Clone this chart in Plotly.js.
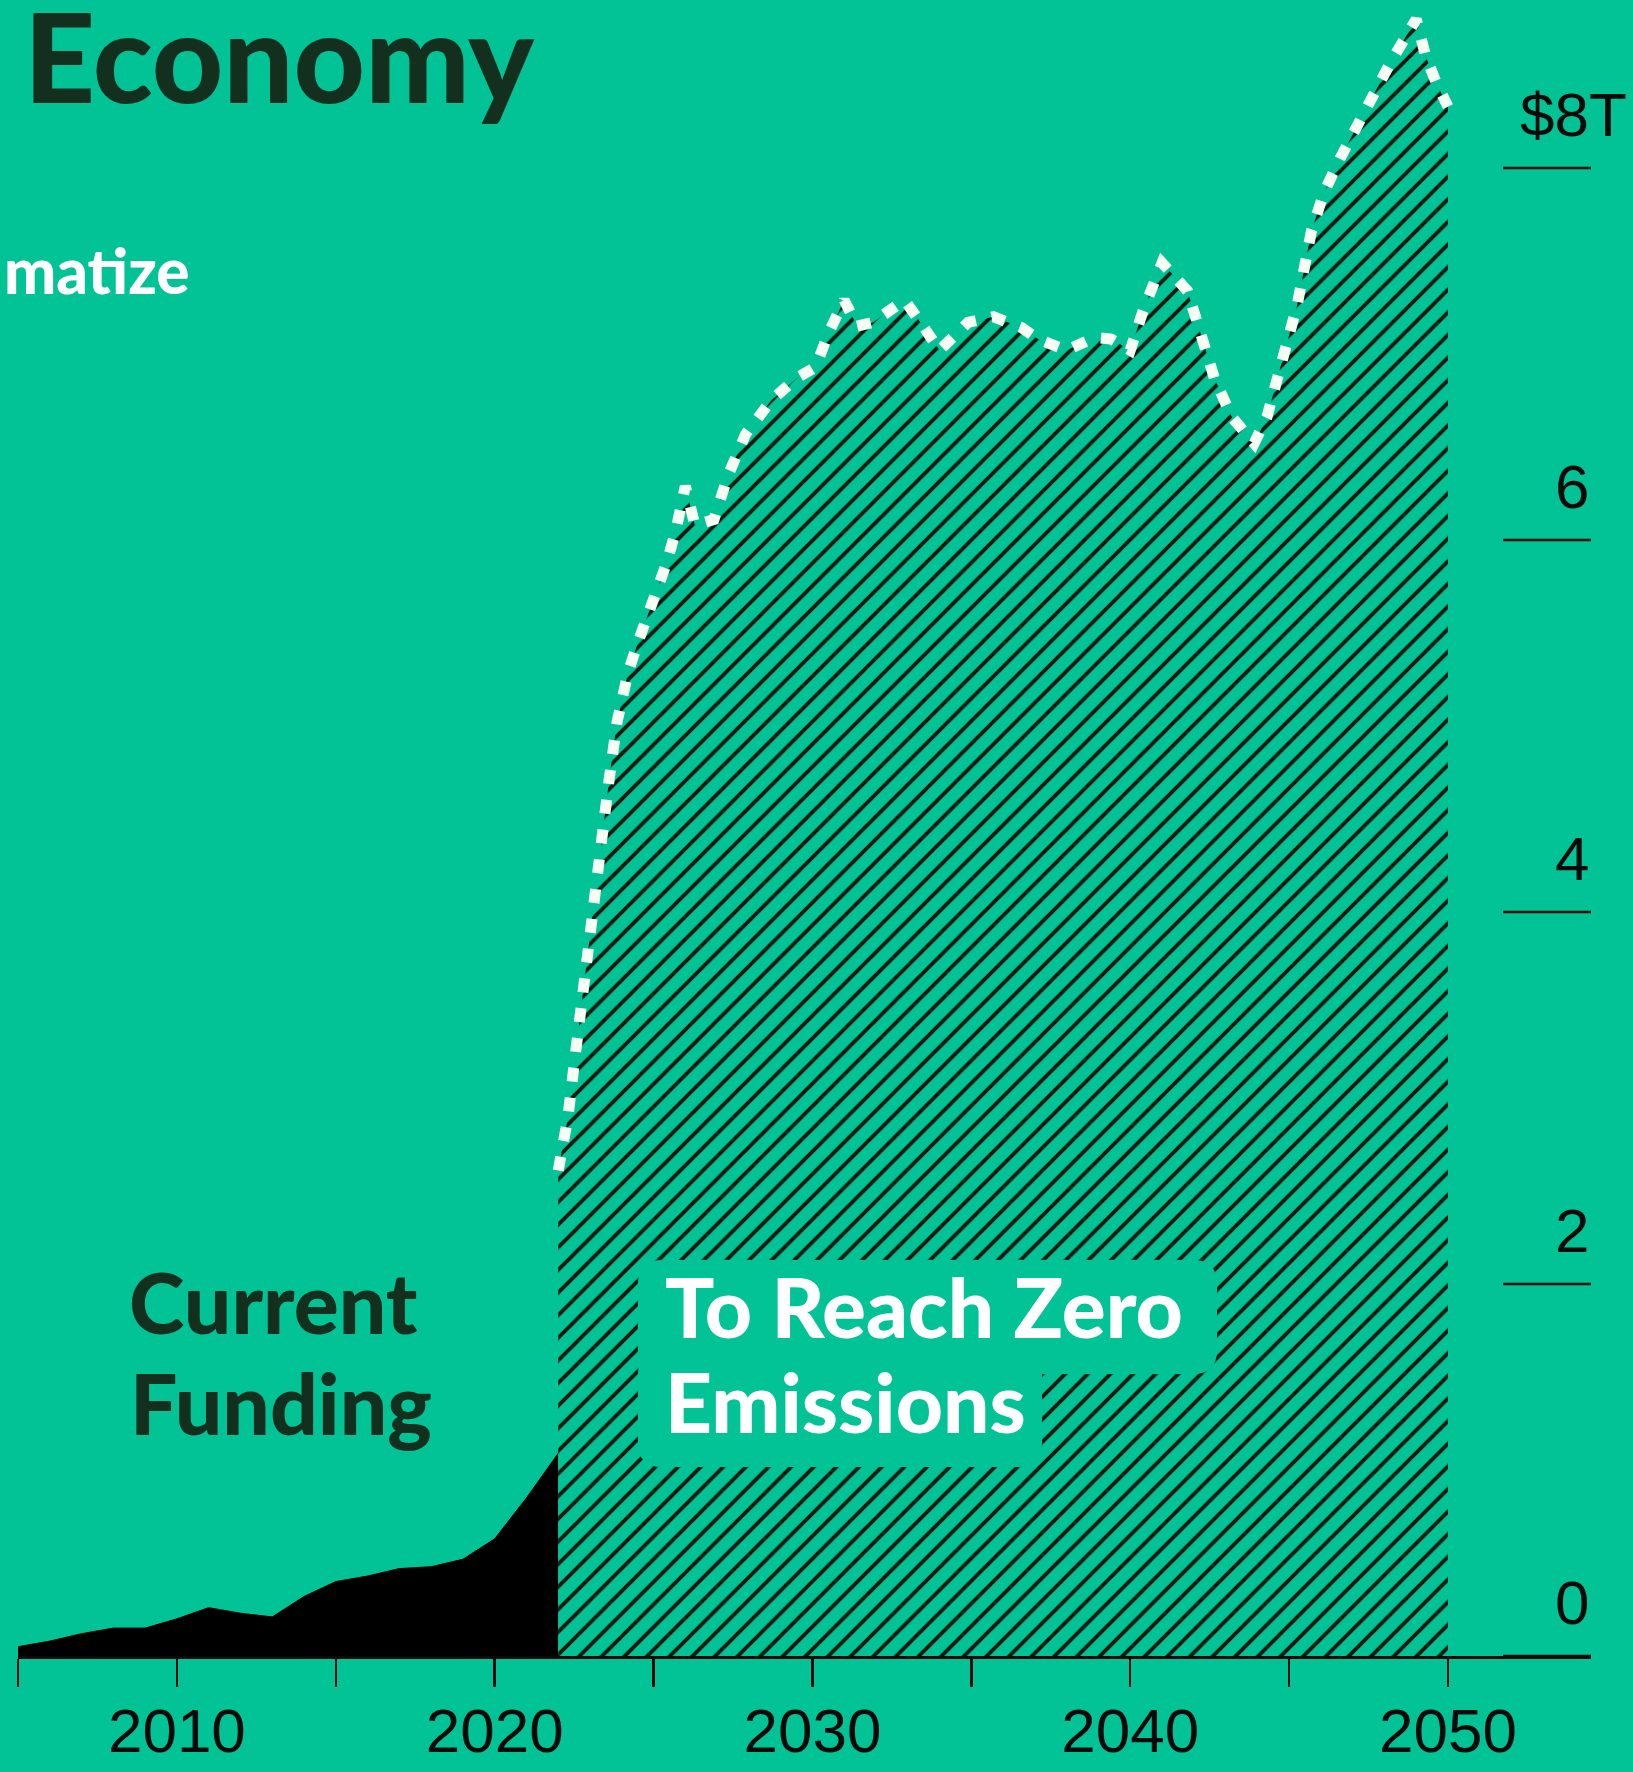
<!DOCTYPE html>
<html>
<head>
<meta charset="utf-8">
<script src="https://cdn.plot.ly/plotly-3.0.1.min.js"></script>
<style>html,body{margin:0;padding:0;background:#02C396;}#chart{width:1633px;height:1772px;}</style>
</head>
<body>
<div id="chart"></div>
<script>
// ---- data ($ trillions) ----
const currentYears = [2005,2006,2007,2008,2009,2010,2011,2012,2013,2014,2015,2016,2017,2018,2019,2020,2021,2022];
const currentFunding = [0.05,0.08,0.12,0.15,0.15,0.20,0.26,0.23,0.21,0.32,0.40,0.43,0.47,0.48,0.52,0.63,0.85,1.09];

const neededYears = [2022.0,2022.3,2022.55,2022.8,2023.1,2023.35,2023.6,2023.85,2024.2,2024.55,2024.95,2025.4,2025.7,2026.0,2026.3,2026.9,2027.35,2027.9,2028.7,2029.5,2030.1,2030.5,2031.0,2031.4,2031.9,2032.9,2033.4,2034.0,2034.9,2035.7,2036.6,2037.1,2038.0,2038.9,2039.4,2040.0,2040.4,2041.0,2041.8,2042.2,2042.65,2043.2,2043.9,2044.3,2044.8,2045.25,2045.7,2046.1,2046.6,2047.1,2047.6,2048.2,2049.0,2049.3,2049.65,2050.0];
const neededFunding = [2.61,2.89,3.25,3.62,3.98,4.35,4.71,5.02,5.29,5.47,5.65,5.87,6.05,6.29,6.08,6.11,6.35,6.57,6.75,6.87,6.93,7.11,7.29,7.15,7.17,7.29,7.17,7.02,7.17,7.20,7.14,7.08,7.02,7.09,7.08,7.02,7.23,7.49,7.34,7.14,6.87,6.66,6.52,6.66,6.96,7.26,7.66,7.87,8.05,8.21,8.39,8.57,8.80,8.60,8.45,8.33];

const xTickVals = [2005,2010,2015,2020,2025,2030,2035,2040,2045,2050];
const xTickText = ['','2010','','2020','','2030','','2040','','2050'];
const yTickVals = [0,2,4,6,8];
const yTickText = ['0','2','4','6','$8T'];

// ---- layout geometry ----
const W = 1633, H = 1772, L = 18, R = 42, T = 0, B = 116;
const plotW = W - L - R, plotH = H - T - B;
const px = v => (v - L) / plotW;
const py = v => (H - B - v) / plotH;

const GREEN = '#02C396';
const DARK = '#13301F';

function roundRect(x0, y0, x1, y1, r) {
  const P = (x, y) => px(x) + ',' + py(y);
  return 'M' + P(x0 + r, y0) + ' L' + P(x1 - r, y0) + ' Q' + P(x1, y0) + ' ' + P(x1, y0 + r) +
    ' L' + P(x1, y1 - r) + ' Q' + P(x1, y1) + ' ' + P(x1 - r, y1) +
    ' L' + P(x0 + r, y1) + ' Q' + P(x0, y1) + ' ' + P(x0, y1 - r) +
    ' L' + P(x0, y0 + r) + ' Q' + P(x0, y0) + ' ' + P(x0 + r, y0) + ' Z';
}

const traces = [
  {
    x: currentYears, y: currentFunding, type: 'scatter', mode: 'lines',
    fill: 'tozeroy', fillcolor: '#000000',
    line: {color: '#000000', width: 1}, hoverinfo: 'skip', showlegend: false
  },
  {
    x: neededYears, y: neededFunding, type: 'scatter', mode: 'lines',
    fill: 'tozeroy', fillcolor: GREEN,
    fillpattern: {shape: '/', fgcolor: '#06180B', bgcolor: GREEN, size: 16, solidity: 0.24},
    line: {color: '#F6FFF1', width: 11, dash: '14px,16px'},
    hoverinfo: 'skip', showlegend: false, cliponaxis: false
  }
];

const shapes = [];
// short reference lines for the value scale
yTickVals.forEach(v => {
  shapes.push({type: 'line', xref: 'paper', yref: 'y', x0: px(1503), x1: 1, y0: v, y1: v,
    line: {color: '#0A0A0A', width: 2.5}, layer: 'above'});
});
// label background boxes
shapes.push({type: 'path', xref: 'paper', yref: 'paper', path: roundRect(638, 1260, 1217, 1374, 24),
  fillcolor: GREEN, line: {width: 0}, layer: 'above'});
shapes.push({type: 'path', xref: 'paper', yref: 'paper', path: roundRect(638, 1350, 1042, 1467, 24),
  fillcolor: GREEN, line: {width: 0}, layer: 'above'});

const annotations = [];
yTickVals.forEach((v, i) => {
  annotations.push({
    xref: 'paper', yref: 'y', x: i === 4 ? px(1629) : px(1591), y: v, yshift: 54,
    xanchor: 'right', yanchor: 'middle', showarrow: false, text: yTickText[i],
    font: {family: 'Liberation Sans, Arial, sans-serif', size: 62, color: '#0A0A0A'}
  });
});
const bigFont = (size, color) => ({family: 'Lato, "Open Sans", sans-serif', size: size, color: color, weight: 900});
function label(text, x, y, anchor, font) {
  annotations.push({xref: 'paper', yref: 'paper', x: px(x), y: py(y), xanchor: anchor, yanchor: 'middle',
    showarrow: false, text: text, font: font});
}
label('Economy', 22, 55, 'left', bigFont(124, DARK));
label('matize', 2, 270, 'left', bigFont(62, '#FFFFFF'));
label('Current', 273, 1301, 'center', bigFont(84, DARK));
label('Funding', 281, 1402, 'center', bigFont(84, DARK));
label('To Reach Zero', 663, 1306, 'left', bigFont(82, '#FFFFFF'));
label('Emissions', 663, 1401, 'left', bigFont(82, '#FFFFFF'));

const layout = {
  width: W, height: H,
  margin: {l: L, r: R, t: T, b: B, pad: 0, autoexpand: false},
  paper_bgcolor: GREEN, plot_bgcolor: GREEN,
  showlegend: false,
  xaxis: {
    range: [2005, 2054.5], showgrid: false, zeroline: false,
    showline: true, linecolor: '#0A0A0A', linewidth: 2.5,
    ticks: 'outside', ticklen: 28, tickwidth: 2.5, tickcolor: '#0A0A0A',
    tickvals: xTickVals, ticktext: xTickText, ticklabelstandoff: -9,
    tickfont: {family: 'Liberation Sans, Arial, sans-serif', size: 62, color: '#0A0A0A'},
    fixedrange: true
  },
  yaxis: {
    range: [0, plotH / 186], visible: false, showgrid: false, zeroline: false, fixedrange: true
  },
  shapes: shapes,
  annotations: annotations
};

Plotly.newPlot('chart', traces, layout, {staticPlot: true, displayModeBar: false});
</script>
</body>
</html>
